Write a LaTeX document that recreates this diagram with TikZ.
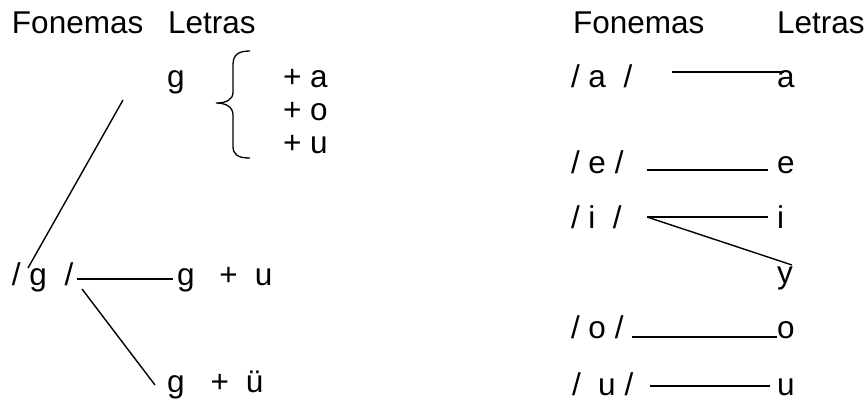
\documentclass[tikz,border=0pt]{standalone}
\usepackage{fontspec}
\setmainfont{Liberation Sans}
\begin{document}
\begin{tikzpicture}[x=1pt,y=-1pt,
  lbl/.style={anchor=base west,inner sep=0pt,outer sep=0pt,font=\fontsize{31.5}{38}\selectfont},
  link/.style={line width=1.4pt,line cap=butt}]
\useasboundingbox (0,0) rectangle (868,402);

% ---- left block: the phoneme /g/ ----
\node[lbl] (hF1) at (12,33) {Fonemas};
\node[lbl] (hL1) at (168,33) {Letras};
\node[lbl] (gtop) at (167,87) {g};
\node[lbl] (pa) at (283,87) {+ a};
\node[lbl] (po) at (283,120) {+ o};
\node[lbl] (pu) at (283,153) {+ u};
\node[lbl] (gph) at (12,285) {/ g\ \ /};
\node[lbl] (gu) at (177,285) {g\hspace{25pt}+\hspace{17pt}u};
\node[lbl] (gue) at (167,392) {g\hspace{26pt}+\hspace{17pt}ü};

% brace grouping the vowels
\draw[link,line width=1.3pt] (250,51) .. controls (238,51) and (233,55) .. (233,65)
  -- (233,92) .. controls (233,100) and (226,103) .. (216,103)
  .. controls (226,103) and (233,107) .. (233,115)
  -- (233,146) .. controls (233,155) and (238,158) .. (250,158);

\coordinate (gA) at (123,100);
\coordinate (gB) at (28,268);
\coordinate (gC) at (77,279);
\coordinate (gD) at (173,279);
\coordinate (gE) at (82,289);
\coordinate (gF) at (155,385);
\draw[link] (gA) -- (gB);
\draw[link] (gC) -- (gD);
\draw[link] (gE) -- (gF);

% ---- right block: the vowels ----
\node[lbl] (hF2) at (573,33) {Fonemas};
\node[lbl] (hL2) at (777,33) {Letras};
\node[lbl] (fa) at (571,87) {/ a\ \ /};
\node[lbl] (la) at (777,87) {a};
\node[lbl] (fe) at (571,173) {/ e /};
\node[lbl] (le) at (777,173) {e};
\node[lbl] (fi) at (571,228) {/ i\ \ /};
\node[lbl] (li) at (777,228) {i};
\node[lbl] (ly) at (777,283) {y};
\node[lbl] (fo) at (571,338) {/ o /};
\node[lbl] (lo) at (777,338) {o};
\node[lbl] (fu) at (572,395) {/\ \ u /};
\node[lbl] (lu) at (777,395) {u};

\coordinate (aA) at (672,72);  \coordinate (aB) at (784,72);
\coordinate (eA) at (647,170); \coordinate (eB) at (768,170);
\coordinate (iA) at (647,217); \coordinate (iB) at (768,217);
\coordinate (yB) at (792,265);
\coordinate (oA) at (632,337); \coordinate (oB) at (777,337);
\coordinate (uA) at (650,386); \coordinate (uB) at (770,386);
\draw[link] (aA) -- (aB);
\draw[link] (eA) -- (eB);
\draw[link] (iA) -- (iB);
\draw[link] (iA) -- (yB);
\draw[link] (oA) -- (oB);
\draw[link] (uA) -- (uB);
\end{tikzpicture}
\end{document}
